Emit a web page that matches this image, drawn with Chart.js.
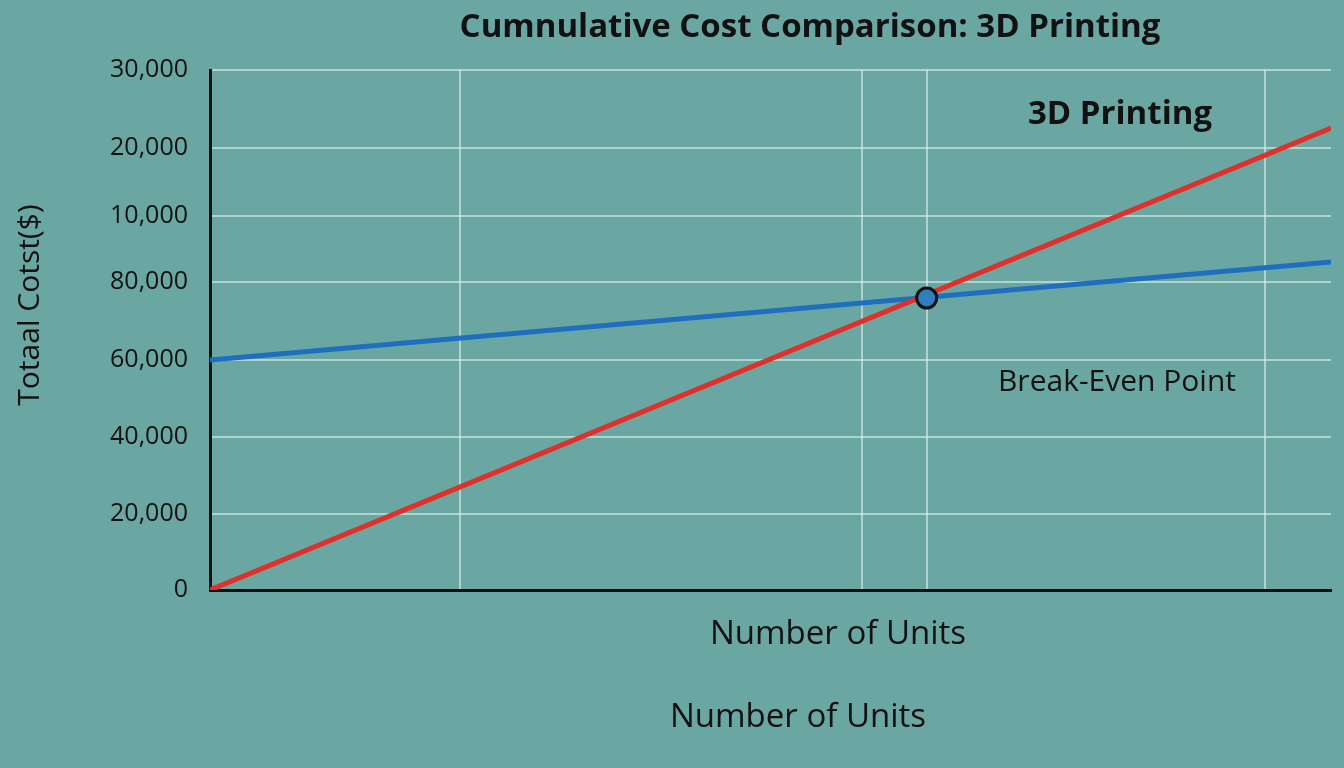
<!DOCTYPE html>
<html>
<head>
<meta charset="utf-8">
<script src="https://cdn.jsdelivr.net/npm/chart.js@4/dist/chart.umd.min.js"></script>
<style>
  html, body { margin: 0; padding: 0; background: #6ba7a2; overflow: hidden; }
</style>
</head>
<body>
<canvas id="c" width="1344" height="768"></canvas>
<script>
// positions along the axes (the picture's ticks are not evenly spaced)
const yTickValues = [0, 76, 153, 230, 308, 374, 442, 520]
const yTickLabels = ['0', '20,000', '40,000', '60,000', '80,000', '10,000', '20,000', '30,000']
const xGridValues = [253, 660, 725, 1067]

const blueLine = [{x: 0, y: 230}, {x: 1134, y: 328}]
const redLine = [{x: 0, y: 0}, {x: 1134, y: 462}]
const breakEven = [{x: 725, y: 292}]

const textPlugin = {
  id: 'texts',
  afterDraw(chart) {
    const ctx = chart.ctx
    ctx.save()
    ctx.fillStyle = '#111'
    ctx.textAlign = 'center'
    ctx.textBaseline = 'middle'
    ctx.font = 'bold 33px "Open Sans"'
    ctx.fillText('Cumnulative Cost Comparison: 3D Printing', 810, 28)
    ctx.fillText('3D Printing', 1120, 115)
    ctx.font = '30px "Open Sans"'
    ctx.fillText('Break-Even Point', 1117, 382)
    ctx.font = '33px "Open Sans"'
    ctx.fillText('Number of Units', 838, 635)
    ctx.fillText('Number of Units', 798, 718)
    ctx.translate(30, 305)
    ctx.rotate(-Math.PI / 2)
    ctx.font = '30px "Open Sans"'
    ctx.fillText('Totaal Cotst($)', 0, 0)
    ctx.restore()
  }
}

new Chart(document.getElementById('c'), {
  type: 'line',
  data: {
    datasets: [
      {label: 'Traditional', data: blueLine, borderColor: '#1f6fc0', borderWidth: 5, pointRadius: 0, order: 2},
      {label: '3D Printing', data: redLine, borderColor: '#e0302a', borderWidth: 5, pointRadius: 0, order: 1},
      {label: 'Break-even', data: breakEven, showLine: false, pointRadius: 10, pointBorderWidth: 3,
        pointBackgroundColor: '#2f7fbf', pointBorderColor: '#111', order: 0}
    ]
  },
  options: {
    responsive: false,
    animation: false,
    events: [],
    layout: {padding: {top: 70, right: 0, left: 0, bottom: 0}},
    plugins: {legend: {display: false}, tooltip: {enabled: false}},
    scales: {
      x: {
        type: 'linear', min: 0, max: 1134,
        afterBuildTicks: s => { s.ticks = xGridValues.map(v => ({value: v})) },
        afterFit: s => { s.height = 178 },
        ticks: {display: false},
        grid: {color: 'rgba(220,240,235,0.6)', lineWidth: 2, drawTicks: false},
        border: {color: '#111', width: 3}
      },
      y: {
        min: 0, max: 520,
        afterBuildTicks: s => { s.ticks = yTickValues.map(v => ({value: v})) },
        afterFit: s => { s.width = 210 },
        ticks: {
          color: '#111', font: {size: 25, family: 'Open Sans'}, padding: 22,
          callback: (v) => yTickLabels[yTickValues.indexOf(v)]
        },
        grid: {color: 'rgba(220,240,235,0.6)', lineWidth: 2, drawTicks: false},
        border: {color: '#111', width: 3}
      }
    }
  },
  plugins: [textPlugin]
})
</script>
</body>
</html>
